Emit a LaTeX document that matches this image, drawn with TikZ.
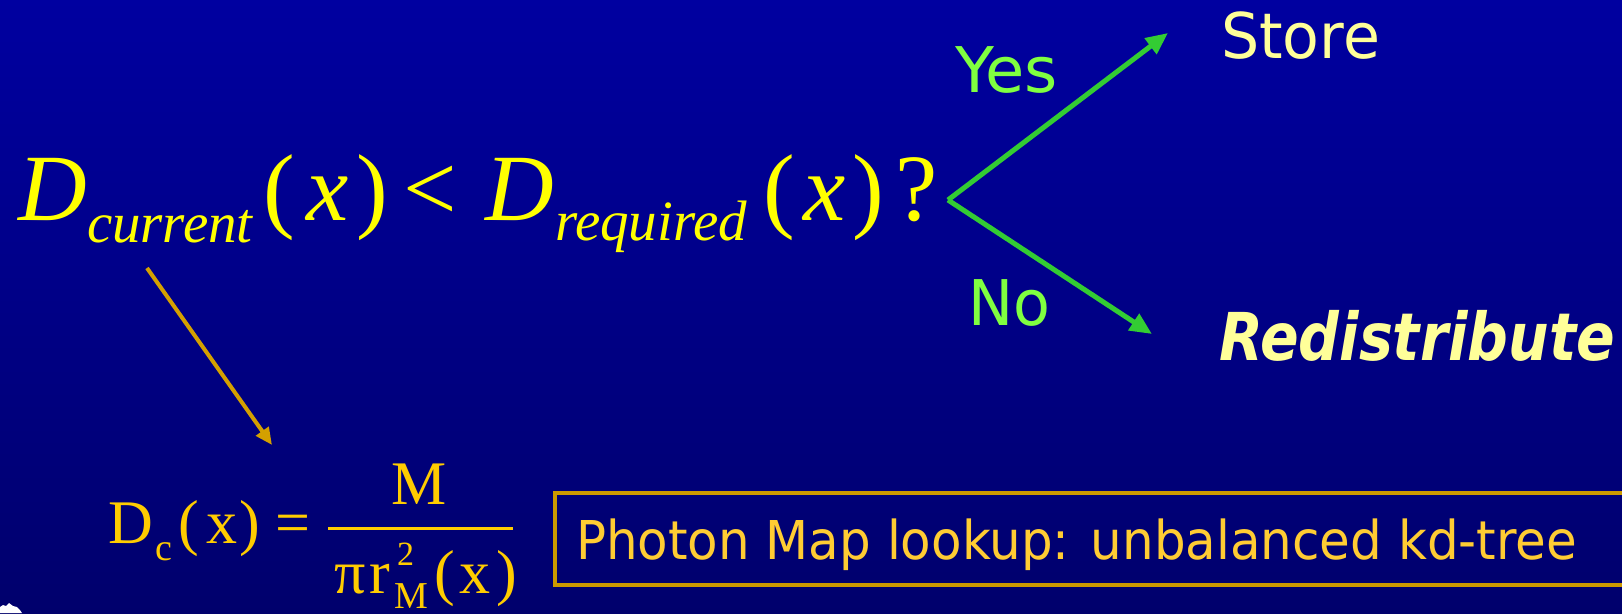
\documentclass[tikz,border=0pt]{standalone}
\usepackage{fontspec}
\usepackage{graphicx}
\usetikzlibrary{arrows.meta}
\setmainfont{DejaVu Sans}
\newfontfamily\tnr{Liberation Serif}
\definecolor{bgtop}{RGB}{0,0,160}
\definecolor{bgbot}{RGB}{0,0,108}
\definecolor{eqyellow}{RGB}{255,255,0}
\definecolor{eqgold}{RGB}{255,204,0}
\definecolor{boxgold}{RGB}{204,153,0}
\definecolor{boxtext}{RGB}{255,204,51}
\definecolor{arrowgreen}{RGB}{51,204,51}
\definecolor{labelgreen}{RGB}{128,255,64}
\definecolor{paleyellow}{RGB}{255,255,153}
\definecolor{arroworange}{RGB}{212,160,0}
\begin{document}
\begin{tikzpicture}[x=1pt,y=-1pt,
  glyph/.style={anchor=base west,inner sep=0pt,outer sep=0pt},
  bigit/.style={glyph,text=eqyellow,font=\tnr\itshape\fontsize{95}{95}\selectfont},
  bigup/.style={glyph,text=eqyellow,font=\tnr\fontsize{95}{95}\selectfont},
  bigsub/.style={glyph,text=eqyellow,font=\tnr\itshape\fontsize{57}{57}\selectfont},
  dcup/.style={glyph,text=eqgold,font=\tnr\fontsize{62}{62}\selectfont},
  dcsub/.style={glyph,text=eqgold,font=\tnr\fontsize{38}{38}\selectfont},
  dcsup/.style={glyph,text=eqgold,font=\tnr\fontsize{34}{34}\selectfont},
  label/.style={glyph,text=labelgreen,font=\fontsize{63}{63}\selectfont},
  result/.style={glyph,text=paleyellow,font=\fontsize{63}{63}\selectfont},
  greenarrow/.style={draw=arrowgreen,line width=5pt,-{Triangle[length=22pt,width=19pt]}},
  orangearrow/.style={draw=arroworange,line width=4pt,-{Triangle[length=17pt,width=15pt]}},
  lookupbox/.style={draw=boxgold,line width=4pt}]
\useasboundingbox (0,0) rectangle (1622,613);
\clip (0,0) rectangle (1622,613);
\shade[top color=bgtop,bottom color=bgbot] (0,0) rectangle (1622,613);

% main condition
\node[bigit]  (D1) at (19,220) {D};
\node[bigsub] (s1) at (87,242) {current};
\node[bigup]  (p1) at (263,220) {(};
\node[bigit]  (x1) at (306,220) {x};
\node[bigup]  (q1) at (356,220) {)};
\node[bigup]  (lt) at (403,220) {<};
\node[bigit]  (D2) at (485,220) {D};
\node[bigsub] (s2) at (555,240) {required};
\node[bigup]  (p2) at (763,220) {(};
\node[bigit]  (x2) at (803,220) {x};
\node[bigup]  (q2) at (852,220) {)};
\node[bigup]  (qm) at (895,220) {?};

% branches
\coordinate (v) at (948,200);
\coordinate (yesend) at (1168,33);
\coordinate (noend) at (1152,334);
\draw[greenarrow] (v) -- (yesend);
\draw[greenarrow] (v) -- (noend);
\node[label] (yes) at (955,92) {\resizebox{103pt}{\height}{Yes}};
\node[label] (no) at (968,325) {\resizebox{82pt}{\height}{No}};
\node[result] (store) at (1221,58) {\resizebox{159pt}{\height}{Store}};
\node[result,font=\fontsize{66}{66}\selectfont\bfseries\itshape] (redis) at (1219,360) {\resizebox{396pt}{\height}{Redistribute}};

% density arrow
\coordinate (oa) at (147,268);
\coordinate (ob) at (272,445);
\draw[orangearrow] (oa) -- (ob);

% D_c formula
\node[dcup]  (Dc) at (108,543) {D};
\node[dcsub] (c)  at (155,560) {c};
\node[dcup]  (dp1) at (178,543) {(};
\node[dcup]  (dx1) at (206,543) {x};
\node[dcup]  (dq1) at (239,543) {)};
\node[dcup]  (eq) at (275,543) {=};
\node[dcup]  (M)  at (391,504) {M};
\coordinate (fa) at (328,528);
\coordinate (fb) at (513,528);
\draw[eqgold,line width=3pt] (fa) -- (fb);
\node[dcup]  (pi) at (334,593) {π};
\node[dcup]  (r)  at (369,593) {r};
\node[dcsup] (two) at (397,565) {2};
\node[dcsub] (Msub) at (394,608) {M};
\node[dcup]  (dp2) at (434,593) {(};
\node[dcup]  (dx2) at (459,593) {x};
\node[dcup]  (dq2) at (496,593) {)};

% lookup box
\draw[lookupbox] (555,493) rectangle (1640,585);
\node[glyph,text=boxtext,font=\fontsize{53.5}{53.5}\selectfont] (lookup) at (576,559) {\resizebox{1001pt}{\height}{Photon Map lookup: unbalanced kd-tree}};

% small icon fragment
\fill[white] (0,613) -- (0,607) -- (3,605) -- (6,606) -- (9,603) -- (13,606) -- (17,607) -- (20,610) -- (22,613) -- cycle;
\end{tikzpicture}
\end{document}
